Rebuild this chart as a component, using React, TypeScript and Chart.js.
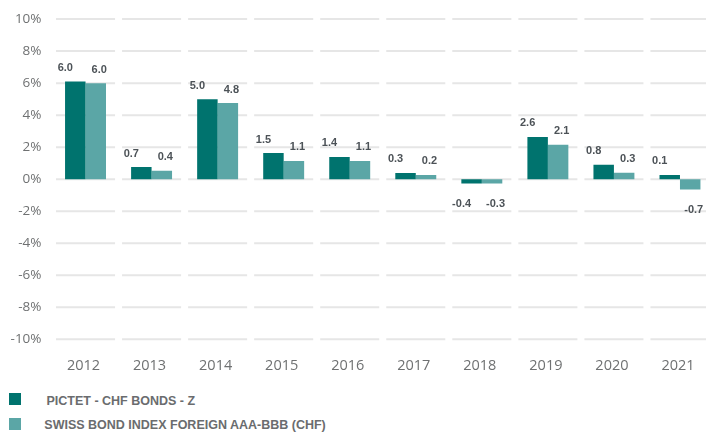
import React, { useEffect, useRef } from "react";
import { Chart, registerables } from "chart.js";

Chart.register(...registerables);

const categories = ["2012", "2013", "2014", "2015", "2016", "2017", "2018", "2019", "2020", "2021"];
// bar heights as drawn in the picture (%)
const fundValues = [6.1, 0.76, 5.0, 1.63, 1.39, 0.39, -0.27, 2.64, 0.9, 0.27];
const indexValues = [6.0, 0.52, 4.76, 1.14, 1.14, 0.27, -0.27, 2.15, 0.41, -0.65];
// value labels as printed above/below the bars
const fundLabels = ["6.0", "0.7", "5.0", "1.5", "1.4", "0.3", "-0.4", "2.6", "0.8", "0.1"];
const indexLabels = ["6.0", "0.4", "4.8", "1.1", "1.1", "0.2", "-0.3", "2.1", "0.3", "-0.7"];
const seriesNames = ["PICTET - CHF BONDS - Z", "SWISS BOND INDEX FOREIGN AAA-BBB (CHF)"];
const seriesColors = ["#00736e", "#5ba6a6"];
const yMin = -10;
const yMax = 10;
const yStep = 2;

const W = 720;
const H = 380;

const segmentedGrid = {
  id: "segmentedGrid",
  beforeDatasetsDraw(chart: any) {
    const { ctx, scales } = chart;
    const x = scales.x;
    const y = scales.y;
    const n = categories.length;
    const w = n > 1 ? x.getPixelForValue(1) - x.getPixelForValue(0) : chart.chartArea.width;
    const gap = 3.5;
    ctx.save();
    ctx.strokeStyle = "#e6e6e6";
    ctx.lineWidth = 2;
    y.ticks.forEach((t: any) => {
      const py = y.getPixelForValue(t.value);
      for (let i = 0; i < n; i++) {
        const c = x.getPixelForValue(i);
        ctx.beginPath();
        ctx.moveTo(c - w / 2 + gap, py);
        ctx.lineTo(c + w / 2 - gap, py);
        ctx.stroke();
      }
    });
    ctx.restore();
  },
};

const valueLabels = {
  id: "valueLabels",
  afterDatasetsDraw(chart: any) {
    const { ctx } = chart;
    const offsets = [-10, 3.5];
    const labelSets = [fundLabels, indexLabels];
    ctx.save();
    ctx.font = "bold 11px 'Liberation Sans', Arial, sans-serif";
    ctx.fillStyle = "#4c5257";
    ctx.textAlign = "center";
    ctx.textBaseline = "middle";
    chart.data.datasets.forEach((ds: any, di: number) => {
      const meta = chart.getDatasetMeta(di);
      meta.data.forEach((bar: any, i: number) => {
        const v = ds.data[i];
        const px = bar.x + offsets[di];
        const py = v >= 0 ? bar.y - 13.5 : bar.y + 20;
        ctx.fillText(labelSets[di][i], px, py);
      });
    });
    ctx.restore();
  },
};

export default function App() {
  const ref = useRef<HTMLCanvasElement | null>(null);

  useEffect(() => {
    if (!ref.current) return;
    const chart = new Chart(ref.current, {
      type: "bar",
      data: {
        labels: categories,
        datasets: [
          {
            label: seriesNames[0],
            data: fundValues,
            backgroundColor: seriesColors[0],
            borderWidth: 0,
            categoryPercentage: 0.62,
            barPercentage: 1,
          },
          {
            label: seriesNames[1],
            data: indexValues,
            backgroundColor: seriesColors[1],
            borderWidth: 0,
            categoryPercentage: 0.62,
            barPercentage: 1,
          },
        ],
      },
      options: {
        responsive: false,
        animation: false,
        devicePixelRatio: 1,
        layout: { padding: { top: 17.3, right: 7, left: 0, bottom: 0 } },
        plugins: {
          legend: { display: false },
          tooltip: { enabled: false },
        },
        scales: {
          x: {
            grid: { display: false, drawTicks: false },
            border: { display: false },
            ticks: {
              color: "#6f7172",
              font: { family: "'Open Sans', sans-serif", size: 14.5 },
              padding: 18,
              labelOffset: -2,
            },
            afterFit(scale: any) {
              scale.height = H - 339.3;
            },
          },
          y: {
            min: yMin,
            max: yMax,
            grid: { display: false, drawTicks: false },
            border: { display: false },
            ticks: {
              stepSize: yStep,
              color: "#6f7172",
              font: { family: "'Open Sans', sans-serif", size: 13.5 },
              padding: 11,
              callback: (v: any) => `${v}%`,
            },
            afterFit(scale: any) {
              scale.width = 52.5;
            },
          },
        },
      },
      plugins: [segmentedGrid, valueLabels],
    });
    return () => chart.destroy();
  }, []);

  const legendText: React.CSSProperties = {
    position: "absolute",
    fontFamily: "'Liberation Sans', Arial, sans-serif",
    fontWeight: "bold",
    fontSize: "12.5px",
    color: "#6a6c6e",
    lineHeight: "14px",
    whiteSpace: "nowrap",
  };

  return (
    <div style={{ position: "fixed", left: 0, top: 0, width: 706, height: 432, overflow: "hidden", background: "#fff" }}>
      <canvas ref={ref} width={W} height={H} style={{ position: "absolute", left: 0, top: 0, width: W, height: H }} />
      <div style={{ position: "absolute", left: 9, top: 393, width: 12, height: 12, background: seriesColors[0] }} />
      <div style={{ ...legendText, left: 46.5, top: 394 }}>{seriesNames[0]}</div>
      <div style={{ position: "absolute", left: 9, top: 417.5, width: 12, height: 12, background: seriesColors[1] }} />
      <div style={{ ...legendText, left: 44.3, top: 417.5 }}>{seriesNames[1]}</div>
    </div>
  );
}
